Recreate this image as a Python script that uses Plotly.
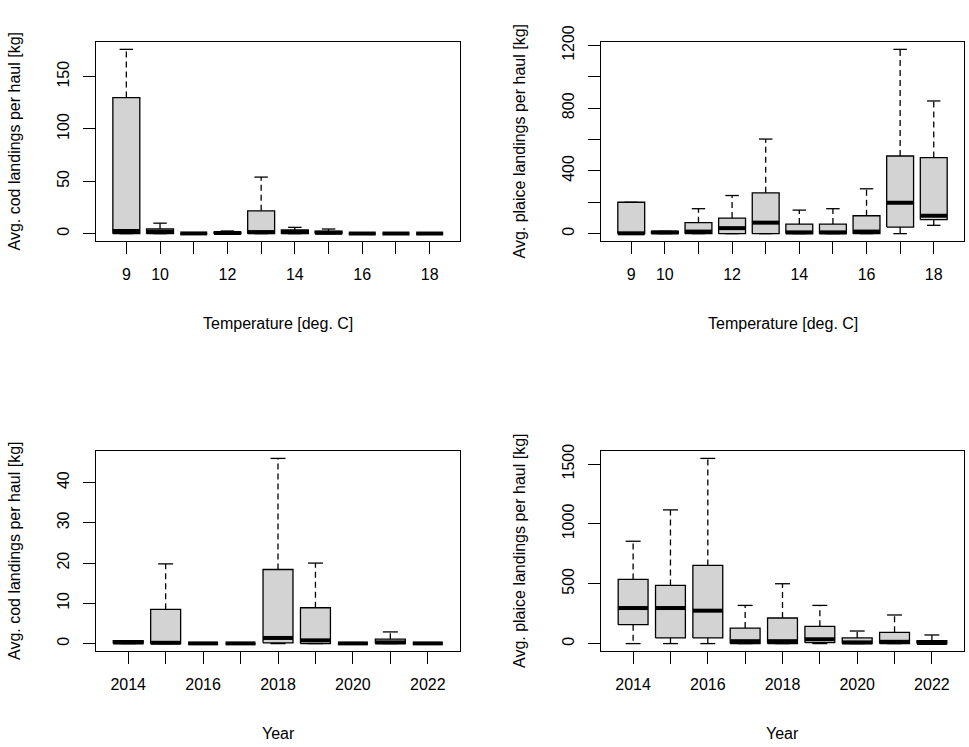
import plotly.graph_objects as go

# ---- data -------------------------------------------------------------
temps = [9, 10, 11, 12, 13, 14, 15, 16, 17, 18]
temp_tick_labels = ["9", "10", "", "12", "", "14", "", "16", "", "18"]
years = [2014, 2015, 2016, 2017, 2018, 2019, 2020, 2021, 2022]
year_tick_labels = ["2014", "", "2016", "", "2018", "", "2020", "", "2022"]

# box statistics: lower whisker, Q1, median, Q3, upper whisker
cod_temp_lo = [0, 0, 0, 0, 0, 0, 0, 0, 0, 0]
cod_temp_q1 = [0, 0, 0, 0, 0, 0, 0, 0, 0, 0]
cod_temp_med = [2.5, 2, 0.2, 0.6, 1.5, 1.5, 0.8, 0.1, 0.1, 0.1]
cod_temp_q3 = [130, 4.5, 0.4, 1.5, 21.8, 3.5, 2.3, 0.3, 0.3, 0.3]
cod_temp_hi = [176, 10, 0.5, 2.5, 54, 6, 4.4, 0.4, 0.4, 0.4]

plaice_temp_lo = [0, 0, 0, 0, 0, 0, 0, 0, 0, 53]
plaice_temp_q1 = [0, 0, 0, 0, 0, 0, 0, 0, 42, 89]
plaice_temp_med = [2, 8, 13, 35, 70, 8, 8, 13, 197, 114]
plaice_temp_q3 = [200, 15, 70, 99, 260, 61, 61, 114, 495, 485]
plaice_temp_hi = [200, 15, 159, 243, 603, 150, 159, 286, 1175, 846]

cod_year_lo = [0, 0, 0, 0, 0, 0, 0, 0, 0]
cod_year_q1 = [0, 0, 0, 0, 0.2, 0, 0, 0, 0]
cod_year_med = [0.3, 0.2, 0.05, 0.05, 1.4, 0.8, 0.05, 0.3, 0.05]
cod_year_q3 = [0.7, 8.5, 0.1, 0.1, 18.4, 8.9, 0.1, 1.1, 0.1]
cod_year_hi = [0.7, 19.8, 0.1, 0.1, 46, 20, 0.1, 2.9, 0.1]

plaice_year_lo = [0, 0, 0, 0, 0, 0, 0, 0, 0]
plaice_year_q1 = [158, 47, 47, 0, 0, 8, 0, 0, 0]
plaice_year_med = [297, 297, 275, 20, 20, 36, 10, 15, 5]
plaice_year_q3 = [536, 486, 653, 130, 214, 144, 47, 94, 25]
plaice_year_hi = [855, 1117, 1547, 319, 500, 319, 105, 239, 72]

cod_temp_ticks = [0, 50, 100, 150]
cod_temp_ticklabels = ["0", "50", "100", "150"]
plaice_temp_ticks = [0, 200, 400, 600, 800, 1000, 1200]
plaice_temp_ticklabels = ["0", "", "400", "", "800", "", "1200"]
cod_year_ticks = [0, 10, 20, 30, 40]
cod_year_ticklabels = ["0", "10", "20", "30", "40"]
plaice_year_ticks = [0, 500, 1000, 1500]
plaice_year_ticklabels = ["0", "500", "1000", "1500"]

# ---- layout geometry (pixels) ----------------------------------------
W, H = 969, 747
FONT = "Liberation Sans, Arial, sans-serif"
BOX_HALF = 0.4
STAPLE_HALF = 0.2

panels = [
    dict(cats=temp_tick_labels, lo=cod_temp_lo, q1=cod_temp_q1, med=cod_temp_med,
         q3=cod_temp_q3, hi=cod_temp_hi, yt=cod_temp_ticks, ytl=cod_temp_ticklabels,
         left=96, right=460, top=42, bottom=241,
         xtitle="Temperature [deg. C]", ytitle="Avg. cod landings per haul [kg]"),
    dict(cats=temp_tick_labels, lo=plaice_temp_lo, q1=plaice_temp_q1, med=plaice_temp_med,
         q3=plaice_temp_q3, hi=plaice_temp_hi, yt=plaice_temp_ticks, ytl=plaice_temp_ticklabels,
         left=601, right=964, top=42, bottom=241,
         xtitle="Temperature [deg. C]", ytitle="Avg. plaice landings per haul [kg]"),
    dict(cats=year_tick_labels, lo=cod_year_lo, q1=cod_year_q1, med=cod_year_med,
         q3=cod_year_q3, hi=cod_year_hi, yt=cod_year_ticks, ytl=cod_year_ticklabels,
         left=96, right=460, top=451, bottom=651,
         xtitle="Year", ytitle="Avg. cod landings per haul [kg]"),
    dict(cats=year_tick_labels, lo=plaice_year_lo, q1=plaice_year_q1, med=plaice_year_med,
         q3=plaice_year_q3, hi=plaice_year_hi, yt=plaice_year_ticks, ytl=plaice_year_ticklabels,
         left=601, right=964, top=451, bottom=651,
         xtitle="Year", ytitle="Avg. plaice landings per haul [kg]"),
]

fig = go.Figure()
annotations = []

for k, p in enumerate(panels, start=1):
    xa = "x" if k == 1 else f"x{k}"
    ya = "y" if k == 1 else f"y{k}"
    n = len(p["cats"])
    pos = list(range(1, n + 1))

    bx, by, wx, wy, sx, sy, mx, my = [], [], [], [], [], [], [], []
    for i, x in enumerate(pos):
        lo, q1, md, q3, hi = p["lo"][i], p["q1"][i], p["med"][i], p["q3"][i], p["hi"][i]
        bx += [x - BOX_HALF, x + BOX_HALF, x + BOX_HALF, x - BOX_HALF, x - BOX_HALF, None]
        by += [q1, q1, q3, q3, q1, None]
        wx += [x, x, None, x, x, None]
        wy += [q3, hi, None, q1, lo, None]
        sx += [x - STAPLE_HALF, x + STAPLE_HALF, None, x - STAPLE_HALF, x + STAPLE_HALF, None]
        sy += [hi, hi, None, lo, lo, None]
        mx += [x - BOX_HALF, x + BOX_HALF, None]
        my += [md, md, None]

    common = dict(xaxis=xa, yaxis=ya, mode="lines", hoverinfo="skip", showlegend=False)
    fig.add_trace(go.Scatter(x=bx, y=by, fill="toself", fillcolor="#D3D3D3",
                             line=dict(color="#000000", width=1.3), **common))
    fig.add_trace(go.Scatter(x=wx, y=wy, line=dict(color="#000000", width=1.3, dash="6px,4px"),
                             **common))
    fig.add_trace(go.Scatter(x=sx, y=sy, line=dict(color="#000000", width=1.3), **common))
    fig.add_trace(go.Scatter(x=mx, y=my, line=dict(color="#000000", width=4), **common))

    # value range with 4% padding on each side
    ylo, yhi = min(p["lo"]), max(p["hi"])
    pad = 0.04 * (yhi - ylo)
    xpad = 0.04 * n

    axis_style = dict(showline=True, mirror=True, linecolor="#000000", linewidth=1.3,
                      ticks="outside", ticklen=12, tickwidth=1.3, tickcolor="#000000",
                      showgrid=False, zeroline=False, automargin=False,
                      tickfont=dict(family=FONT, size=16, color="#000000"))
    fig.layout[f"xaxis{'' if k == 1 else k}"] = dict(
        domain=[p["left"] / W, p["right"] / W], anchor=ya,
        range=[0.5 - xpad, n + 0.5 + xpad], tickmode="array",
        tickvals=pos, ticktext=p["cats"], ticklabelstandoff=7, **axis_style)
    fig.layout[f"yaxis{'' if k == 1 else k}"] = dict(
        domain=[1 - p["bottom"] / H, 1 - p["top"] / H], anchor=xa,
        range=[ylo - pad, yhi + pad], tickmode="array",
        tickvals=p["yt"], ticktext=p["ytl"], tickangle=-90, ticklabelstandoff=7,
        **axis_style)

    annotations.append(dict(text=p["xtitle"], xref="paper", yref="paper",
                            x=(p["left"] + p["right"]) / 2 / W, y=1 - (p["bottom"] + 82) / H,
                            xanchor="center", yanchor="middle", showarrow=False,
                            font=dict(family=FONT, size=16, color="#000000")))
    annotations.append(dict(text=p["ytitle"], xref="paper", yref="paper", textangle=-90,
                            x=(p["left"] - 82) / W, y=1 - (p["top"] + p["bottom"]) / 2 / H,
                            xanchor="center", yanchor="middle", showarrow=False,
                            font=dict(family=FONT, size=16, color="#000000")))

fig.update_layout(template="none", width=W, height=H, margin=dict(l=0, r=0, t=0, b=0),
                  paper_bgcolor="white", plot_bgcolor="white",
                  annotations=annotations)

fig.write_html("out.html")
